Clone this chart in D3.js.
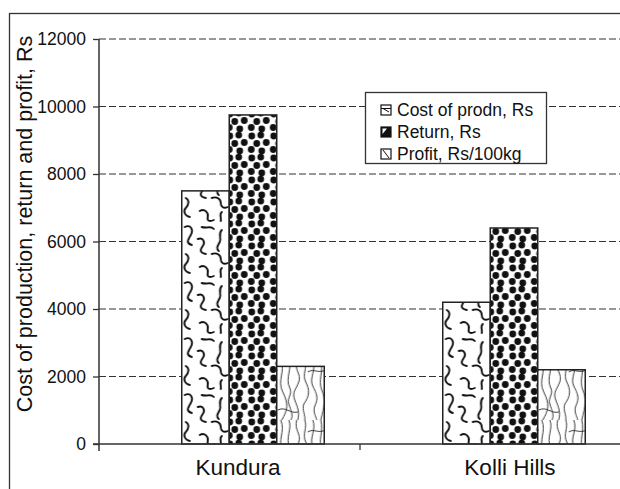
<!DOCTYPE html>
<html>
<head>
<meta charset="utf-8">
<script src="https://cdn.jsdelivr.net/npm/d3@7"></script>
<style>
  body { margin: 0; background: #fff; }
  text { font-family: "Liberation Sans", Arial, sans-serif; fill: #111; }
</style>
</head>
<body>
<svg id="chart" width="620" height="489"></svg>
<script>
const categories = ["Kundura", "Kolli Hills"];
const seriesNames = ["Cost of prodn, Rs", "Return, Rs", "Profit, Rs/100kg"];
const costValues = [7500, 4200];
const returnValues = [9750, 6400];
const profitValues = [2300, 2200];
const yTicks = [0, 2000, 4000, 6000, 8000, 10000, 12000];
const yTitle = "Cost of production, return and profit, Rs";

const svg = d3.select("#chart");
const ink = "#222";

// patterns
const defs = svg.append("defs");

let waves = defs.append("pattern").attr("id", "p0")
    .attr("patternUnits", "userSpaceOnUse").attr("width", 48).attr("height", 56);
waves.append("rect").attr("width", 48).attr("height", 56).attr("fill", "#fff");
[
  "M3,3 c6,-3 9,3 6,8 s-5,8 1,10",
  "M20,3 c5,2 9,-2 12,2",
  "M40,6 c-4,4 0,8 -2,12 s-4,6 -1,9",
  "M16,15 c5,-2 8,3 5,7 s-3,7 3,8",
  "M30,30 c5,-2 9,1 9,5 s3,6 7,4",
  "M4,30 c4,2 3,7 0,10 s-1,8 4,9",
  "M18,43 c5,-3 9,2 8,6 s2,5 6,3",
  "M40,44 c-3,3 0,6 -1,9"
].forEach(p => waves.append("path").attr("d", p)
    .attr("fill", "none").attr("stroke", "#111").attr("stroke-width", 1.9)
    .attr("stroke-linecap", "round"));

let dots = defs.append("pattern").attr("id", "p1")
    .attr("patternUnits", "userSpaceOnUse").attr("width", 22).attr("height", 22);
dots.append("rect").attr("width", 22).attr("height", 22).attr("fill", "#fff");
[[4, 4], [13, 3], [9, 11.5], [18.5, 10.5], [3.5, 17.5], [14, 19]].forEach(c =>
    dots.append("circle").attr("cx", c[0]).attr("cy", c[1]).attr("r", 3.4).attr("fill", "#111"));

let contour = defs.append("pattern").attr("id", "p2")
    .attr("patternUnits", "userSpaceOnUse").attr("width", 48).attr("height", 60);
contour.append("rect").attr("width", 48).attr("height", 60).attr("fill", "#fff");
[
  "M3,0 C8,12 -1,20 5,32 S10,50 4,60",
  "M11,0 C15,8 7,18 12,28 C15,34 9,38 11,44 S16,56 13,60",
  "M19,0 C16,10 24,14 21,22 C18,30 14,32 17,40 S22,52 20,60",
  "M27,0 C30,8 24,14 28,22 S32,36 26,44 C24,50 28,56 27,60",
  "M35,0 C39,10 31,18 35,26 S41,38 37,46 C35,52 38,56 39,60",
  "M43,0 C46,12 40,20 44,30 S47,44 43,60",
  "M0,50 C8,46 12,54 20,52",
  "M30,12 C36,8 40,14 48,10"
].forEach(p => contour.append("path").attr("d", p)
    .attr("fill", "none").attr("stroke", "#222").attr("stroke-width", 0.9));

// outer frame
svg.append("rect").attr("x", 9.5).attr("y", 13.5).attr("width", 700).attr("height", 600)
    .attr("fill", "none").attr("stroke", "#333").attr("stroke-width", 1.3);

const y = d3.scaleLinear().domain([0, 12000]).range([444, 39]);
const x0 = d3.scaleBand().domain(categories).range([99, 621]).padding(0);
const x1 = d3.scaleBand().domain(seriesNames).range([0, 142.5]).padding(0);
const labelX = d3.scalePoint().domain(categories).range([238, 510]);
const groupShift = 23.5;

// grid
svg.append("g").selectAll("line").data(yTicks.filter(d => d > 0)).join("line")
    .attr("x1", 99).attr("x2", 620)
    .attr("y1", d => y(d)).attr("y2", d => y(d))
    .attr("stroke", "#333").attr("stroke-width", 1.2).attr("stroke-dasharray", "7,3");

// y axis
const yAxis = d3.axisLeft(y).tickValues(yTicks).tickSize(6).tickPadding(7)
    .tickFormat(d3.format("d"));
const gy = svg.append("g").attr("transform", "translate(99,0)").call(yAxis);
gy.select(".domain").remove();
gy.selectAll(".tick line").attr("stroke", "#333").attr("stroke-width", 1.3);
gy.selectAll(".tick text").attr("font-size", 17.5)
    .attr("font-family", "Liberation Sans, Arial, sans-serif").attr("fill", "#111");
svg.append("line").attr("x1", 99).attr("x2", 99).attr("y1", y(12000)).attr("y2", 451)
    .attr("stroke", "#333").attr("stroke-width", 1.5);

// bars
const table = categories.map((c, i) => ({
  cat: c,
  vals: [costValues[i], returnValues[i], profitValues[i]]
}));
const groups = svg.append("g").selectAll("g").data(table).join("g")
    .attr("transform", d => `translate(${x0(d.cat) + x0.bandwidth() / 2 + groupShift - 71.25},0)`);
groups.selectAll("rect").data(d => d.vals.map((v, j) => ({ s: seriesNames[j], v, j })))
    .join("rect")
    .attr("x", d => x1(d.s))
    .attr("y", d => y(d.v))
    .attr("width", x1.bandwidth())
    .attr("height", d => y(0) - y(d.v))
    .attr("fill", d => `url(#p${d.j})`)
    .attr("stroke", ink).attr("stroke-width", 1.5);

// x axis
svg.append("line").attr("x1", 93).attr("x2", 620).attr("y1", 444).attr("y2", 444)
    .attr("stroke", "#333").attr("stroke-width", 1.5);
svg.append("g").selectAll("line").data(categories).join("line")
    .attr("x1", d => x0(d) + x0.bandwidth()).attr("x2", d => x0(d) + x0.bandwidth())
    .attr("y1", 444).attr("y2", 450)
    .attr("stroke", "#333").attr("stroke-width", 1.3);
svg.append("g").selectAll("text").data(categories).join("text")
    .attr("x", d => labelX(d)).attr("y", 475)
    .attr("text-anchor", "middle").attr("font-size", 22.5).text(d => d);

// y title
svg.append("text").attr("transform", "translate(32,224) rotate(-90)")
    .attr("text-anchor", "middle").attr("font-size", 21.5).text(yTitle);

// legend
const lg = svg.append("g").attr("transform", "translate(365,92)");
lg.append("rect").attr("x", 0.5).attr("y", 0.5).attr("width", 181).attr("height", 71)
    .attr("fill", "#fff").attr("stroke", "#333").attr("stroke-width", 1.3);
const rows = lg.selectAll("g").data(seriesNames).join("g")
    .attr("transform", (d, i) => `translate(16,${13 + i * 22})`);
rows.append("rect").attr("width", 10).attr("height", 10)
    .attr("fill", (d, i) => i === 1 ? "#111" : "#fff")
    .attr("stroke", "#111").attr("stroke-width", 1.2);
rows.filter((d, i) => i === 0).append("path").attr("d", "M0,3.5 H10 M2,3.5 L8,7")
    .attr("stroke", "#111").attr("stroke-width", 1).attr("fill", "none");
rows.filter((d, i) => i === 1).append("path").attr("d", "M1.5,1.5 H6 L1.5,7 Z")
    .attr("fill", "#fff");
rows.filter((d, i) => i === 2).append("path").attr("d", "M2,1 L8,9")
    .attr("stroke", "#111").attr("stroke-width", 1).attr("fill", "none");
rows.append("text").attr("x", 16).attr("y", 5).attr("dy", "0.36em")
    .attr("font-size", 17.5).text(d => d);
</script>
</body>
</html>
